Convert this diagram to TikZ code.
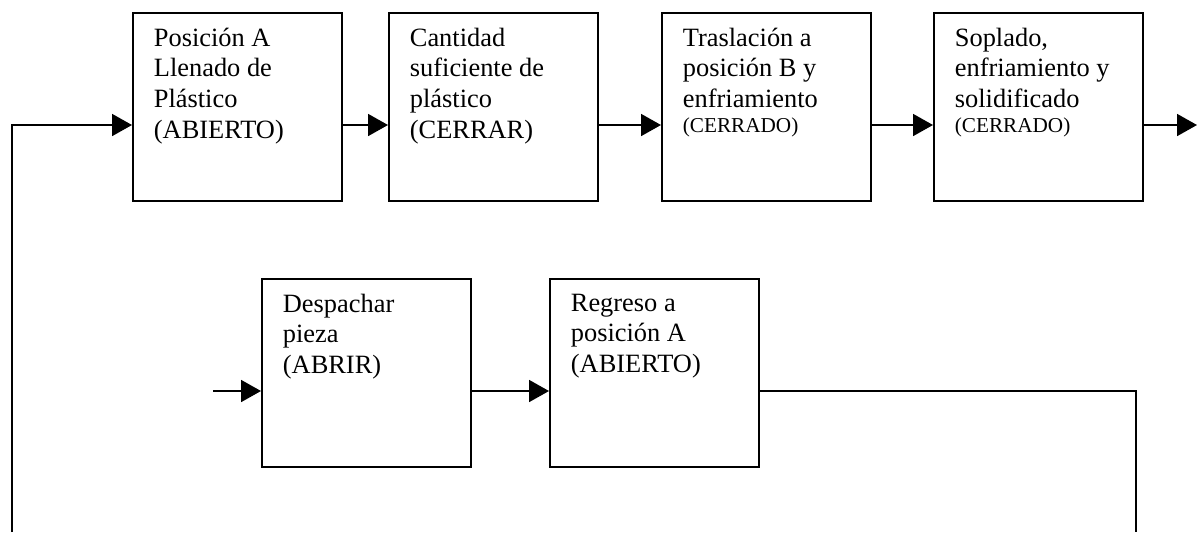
\documentclass[tikz,border=0pt]{standalone}
\usepackage{fontspec}
\setmainfont{Liberation Serif}
\usepackage{tikz}
\usetikzlibrary{arrows.meta,calc}

\newcommand{\txt}[1]{\parbox[t][79pt][t]{83.5pt}{\raggedright\fontsize{13.2}{15.35}\selectfont #1}}
\newcommand{\chico}[1]{\par{\fontsize{10.6}{12.5}\selectfont #1\par}}

\begin{document}
\begin{tikzpicture}[x=0.5pt,y=-0.5pt,
  caja/.style={draw,line width=0.9pt,anchor=north west,minimum width=104.5pt,minimum height=94pt,inner xsep=10.5pt,inner ysep=7.5pt},
  flecha/.style={line width=0.9pt,-{Triangle[length=10pt,width=11pt]}}]

\useasboundingbox (0,0) rectangle (1198,532);

\node[caja] (pos) at (132,12) {\txt{Posición A\\Llenado de\\Plástico\\(ABIERTO)}};
\node[caja] (cant) at (388,12) {\txt{Cantidad\\suficiente de\\plástico\\(CERRAR)}};
\node[caja] (tras) at (661,12) {\txt{Traslación a\\posición B y\\enfriamiento\chico{(CERRADO)}}};
\node[caja] (sopl) at (933,12) {\txt{Soplado,\\enfriamiento y\\solidificado\chico{(CERRADO)}}};
\node[caja] (desp) at (261,278) {\txt{Despachar\\pieza\\(ABRIR)}};
\node[caja] (regr) at (549,278) {\txt{Regreso a\\posición A\\(ABIERTO)}};

\coordinate (sale) at (1197,125);
\coordinate (entra) at (213,391);
\coordinate (abajoizq) at (12,532);
\coordinate (abajoder) at (1136,532);

\draw[flecha] ([yshift=-56.5pt]pos.north east) -- ([yshift=-56.5pt]cant.north west);
\draw[flecha] ([yshift=-56.5pt]cant.north east) -- ([yshift=-56.5pt]tras.north west);
\draw[flecha] ([yshift=-56.5pt]tras.north east) -- ([yshift=-56.5pt]sopl.north west);
\draw[flecha] ([yshift=-56.5pt]sopl.north east) -- (sale);

\draw[flecha] (entra) -- ([yshift=-56.5pt]desp.north west);
\draw[flecha] ([yshift=-56.5pt]desp.north east) -- ([yshift=-56.5pt]regr.north west);

% retorno
\draw[line width=0.9pt] ([yshift=-56.5pt]regr.north east) -| (abajoder);
\draw[flecha] (abajoizq) |- ([yshift=-56.5pt]pos.north west);

\end{tikzpicture}
\end{document}
